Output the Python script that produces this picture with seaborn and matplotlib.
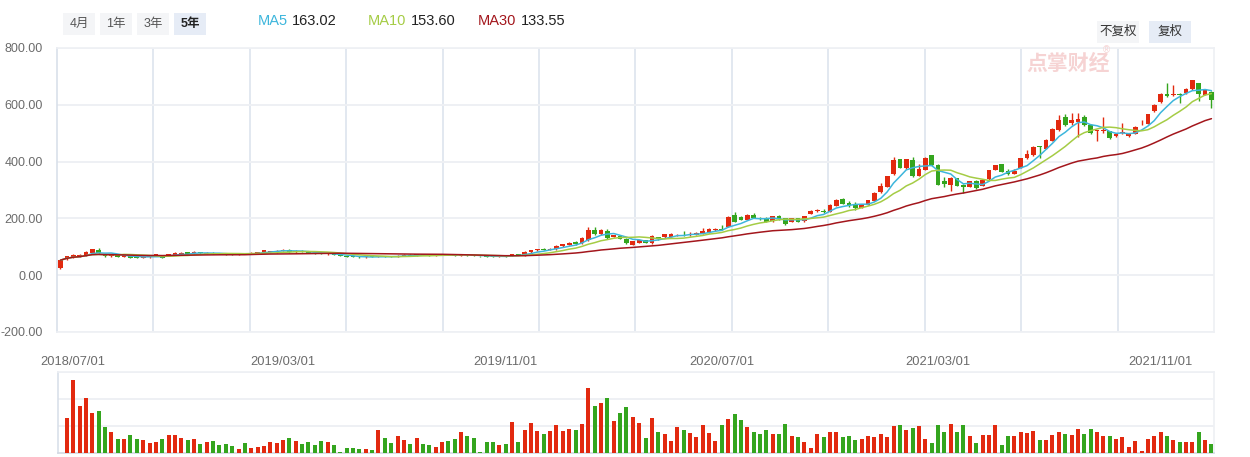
import numpy as np
import pandas as pd
import matplotlib
matplotlib.use("Agg")
import matplotlib.pyplot as plt
from matplotlib.patches import Rectangle
import seaborn as sns

# ---------------- data ----------------
opens = [26, 57, 64, 66, 68, 78, 88, 72, 66, 71, 65, 67, 65, 61, 63, 69, 67, 68, 71, 73,
         80, 77, 80, 76, 79, 77, 76, 74, 72, 77, 74, 78, 80, 82, 80, 85, 90, 80, 84, 82,
         79, 77, 73, 76, 72, 68, 67, 66, 63, 67, 64, 68, 67, 64, 68, 72, 69, 74, 71, 69,
         71, 74, 72, 69, 74, 71, 68, 67, 66, 65, 71, 70, 74, 69, 80, 87, 94, 90, 91, 102,
         106, 118, 112, 123, 159, 144, 155, 135, 139, 127, 108, 115, 123, 112, 133, 133, 135, 140, 143, 140,
         143, 146, 150, 158, 163, 170, 211, 205, 195, 213, 203, 202, 191, 208, 200, 188, 200, 191, 216, 225,
         226, 223, 245, 268, 255, 252, 238, 248, 262, 293, 311, 355, 408, 376, 405, 350, 372, 422, 387, 332,
         319, 341, 317, 311, 333, 315, 337, 372, 391, 366, 358, 379, 411, 422, 453, 446, 473, 510, 557, 536,
         539, 557, 530, 507, 507, 507, 491, 500, 490, 498, 531, 534, 578, 610, 639, 634, 639, 641, 655, 675,
         636, 645]
highs = [55, 68, 74, 73, 85, 93, 95, 74, 75, 72, 71, 68, 66, 66, 68, 75, 68, 74, 82, 80,
         81, 84, 81, 80, 80, 78, 77, 75, 77, 78, 80, 83, 89, 86, 87, 91, 94, 87, 88, 83,
         80, 78, 78, 77, 73, 69, 68, 67, 67, 68, 68, 69, 68, 70, 74, 73, 76, 75, 72, 73,
         75, 75, 73, 76, 75, 72, 69, 68, 67, 71, 72, 76, 75, 85, 89, 93, 97, 96, 108, 110,
         117, 121, 134, 168, 168, 162, 163, 143, 142, 130, 122, 125, 125, 140, 136, 146, 148, 145, 156, 152,
         151, 165, 166, 167, 176, 208, 222, 210, 214, 219, 205, 204, 210, 213, 202, 202, 202, 210, 228, 234,
         233, 251, 267, 272, 262, 256, 252, 266, 292, 323, 351, 417, 410, 410, 415, 393, 416, 424, 390, 346,
         345, 343, 320, 333, 336, 336, 372, 389, 393, 374, 375, 413, 440, 455, 455, 478, 518, 563, 569, 571,
         572, 565, 533, 510, 556, 509, 500, 535, 500, 524, 548, 569, 603, 640, 677, 668, 641, 659, 688, 677,
         656, 648]
lows = [22, 55, 62, 64, 67, 76, 76, 64, 64, 63, 64, 60, 59, 60, 62, 68, 60, 67, 70, 72,
        74, 76, 76, 75, 75, 73, 72, 71, 71, 73, 73, 77, 79, 80, 79, 84, 79, 79, 81, 77,
        75, 73, 72, 70, 66, 63, 63, 62, 62, 63, 63, 64, 63, 63, 67, 68, 68, 70, 68, 68,
        70, 70, 68, 68, 69, 67, 65, 64, 63, 64, 65, 69, 70, 68, 79, 86, 88, 89, 90, 101,
        105, 108, 111, 122, 142, 142, 127, 133, 126, 110, 106, 113, 113, 110, 124, 131, 133, 138, 139, 138,
        141, 144, 148, 156, 158, 168, 186, 193, 193, 200, 194, 186, 189, 196, 177, 186, 186, 189, 214, 222,
        219, 221, 243, 249, 240, 230, 236, 246, 260, 291, 309, 353, 376, 374, 345, 348, 370, 385, 317, 312,
        297, 313, 290, 309, 304, 313, 335, 370, 362, 352, 356, 377, 409, 420, 414, 444, 471, 508, 526, 528,
        486, 526, 497, 472, 500, 481, 487, 496, 486, 496, 529, 532, 576, 608, 629, 632, 607, 639, 653, 614,
        634, 590]
closes = [53, 66, 71, 71, 82, 91, 78, 66, 73, 65, 70, 62, 61, 64, 67, 73, 62, 73, 79, 79,
          75, 81, 77, 79, 76, 74, 73, 72, 76, 74, 79, 82, 87, 85, 86, 90, 81, 85, 82, 78,
          76, 74, 77, 71, 67, 64, 64, 63, 66, 64, 67, 65, 64, 69, 72, 69, 74, 71, 69, 72,
          74, 71, 69, 74, 70, 68, 66, 65, 64, 70, 66, 74, 71, 82, 88, 92, 90, 94, 102, 109,
          115, 110, 131, 159, 144, 159, 131, 141, 128, 112, 120, 123, 115, 137, 126, 144, 146, 143, 140, 143,
          150, 155, 163, 163, 159, 205, 188, 195, 211, 202, 198, 188, 208, 198, 182, 200, 188, 208, 226, 226,
          221, 246, 264, 251, 248, 237, 250, 264, 290, 313, 349, 405, 379, 408, 350, 373, 413, 387, 319, 320,
          343, 315, 311, 331, 306, 334, 370, 387, 364, 358, 368, 411, 428, 452, 451, 475, 516, 546, 528, 546,
          549, 528, 499, 509, 510, 483, 497, 505, 497, 522, 534, 567, 601, 637, 631, 639, 636, 657, 686, 639,
          651, 616]
volumes = [np.nan,
           106, 220, 142, 166, 121, 127, 79, 64, 43, 43, 55, 43, 40, 31, 34, 43, 55, 55, 46, 40,
           43, 28, 34, 37, 25, 28, 22, 13, 31, 16, 19, 22, 34, 31, 40, 46, 37, 28, 34, 25,
           37, 34, 25, 4, 16, 16, 13, 13, 10, 70, 46, 31, 52, 40, 28, 46, 28, 25, 19, 34,
           37, 43, 64, 52, 46, 4, 34, 34, 25, 28, 94, 34, 70, 91, 67, 58, 67, 85, 67, 73,
           70, 88, 196, 142, 151, 166, 97, 121, 139, 109, 91, 46, 106, 64, 58, 37, 79, 70, 61, 49,
           85, 61, 37, 85, 103, 118, 100, 79, 64, 58, 70, 58, 58, 88, 52, 49, 34, 16, 58, 49,
           64, 64, 49, 52, 40, 43, 52, 49, 58, 49, 82, 85, 70, 76, 82, 43, 31, 85, 64, 88,
           64, 85, 52, 31, 55, 55, 85, 25, 52, 52, 64, 61, 67, 40, 40, 55, 64, 58, 55, 73,
           58, 73, 64, 52, 52, 43, 49, 19, 37, 7, 43, 52, 64, 52, 40, 34, 34, 34, 64, 40,
           28]
date_tick_idx = [2, 35, 70, 104, 138, 173]
date_tick_labels = ["2018/07/01", "2019/03/01", "2019/11/01", "2020/07/01", "2021/03/01", "2021/11/01"]
price_ticks = [-200, 0, 200, 400, 600, 800]
ma_windows = [5, 10, 30]
ma_names = ["MA5", "MA10", "MA30"]
ma_header_values = ["163.02", "153.60", "133.55"]
period_buttons = ["4月", "1年", "3年", "5年"]
adjust_buttons = ["不复权", "复权"]

# ---------------- style ----------------
sns.set_style("white")
plt.rcParams["font.family"] = ["Liberation Sans", "Noto Sans CJK SC", "DejaVu Sans"]

RED = "#e2290f"
GREEN = "#34a51e"
MA_COLORS = ["#3db6dc", "#a5cc45", "#a3161c"]
GRID_H = "#eef0f4"
GRID_V = "#e2e8f0"
TXT = "#6b6b6b"

W, H = 1250, 457
fig = plt.figure(figsize=(W / 100, H / 100), dpi=100)
fig.patch.set_facecolor("white")

def fx(px):
    return px / W

def fy(py):
    return 1 - py / H

df = pd.DataFrame({"open": opens, "high": highs, "low": lows, "close": closes, "volume": volumes})
df["idx"] = np.arange(len(df))
df["up"] = df["close"] >= df["open"]
for w, n in zip(ma_windows, ma_names):
    df[n] = df["close"].rolling(w, min_periods=1).mean()

XL = (-0.55, 181.4)

# ---------------- main axes ----------------
ax = fig.add_axes([fx(57), fy(332), fx(1214) - fx(57), fy(48) - fy(332)])
ax.set_xlim(*XL)
ax.set_ylim(-200, 800)
ax.set_yticks(price_ticks)
ax.set_yticklabels([f"{v:.2f}" for v in price_ticks], color=TXT, fontsize=9)
ax.tick_params(axis="y", length=0, pad=10)
vgrid = [XL[0] + (XL[1] - XL[0]) * j / 12 for j in range(1, 12)]
ax.set_xticks(vgrid)
ax.set_xticklabels([])
ax.tick_params(axis="x", length=0)
ax.grid(axis="y", color=GRID_H, lw=1.4)
ax.grid(axis="x", color=GRID_V, lw=1.4)
ax.set_axisbelow(True)
for s in ["top", "right", "bottom"]:
    ax.spines[s].set_color(GRID_H)
    ax.spines[s].set_linewidth(1.2)
ax.spines["left"].set_color("#d9e0ea")
ax.spines["left"].set_linewidth(1.2)

colors = np.where(df["up"], RED, GREEN)
body_bottom = np.minimum(df["open"], df["close"])
body_h = np.maximum((df["close"] - df["open"]).abs(), 3)
ax.vlines(df["idx"], df["low"], df["high"], colors=colors, lw=1.0, zorder=3)
ax.bar(df["idx"], body_h, bottom=body_bottom, width=0.74, color=colors, lw=0, zorder=4)

for n, c in zip(ma_names, MA_COLORS):
    sns.lineplot(data=df, x="idx", y=n, ax=ax, color=c, lw=1.1, zorder=5, legend=False)
ax.set_xlabel("")
ax.set_ylabel("")

# watermark
fig.text(fx(1068), fy(64), "点掌财经", color="#f6d3d3", fontsize=15, fontweight="bold",
         ha="center", va="center", zorder=0)
fig.text(fx(1106), fy(50), "®", color="#f6d3d3", fontsize=7, ha="center", va="center")

# ---------------- volume axes ----------------
axv = fig.add_axes([fx(58), fy(453), fx(1214) - fx(58), fy(372) - fy(453)])
axv.set_xlim(-0.39, 181.4)
axv.set_ylim(0, 243)
axv.bar(df["idx"], df["volume"], width=0.63, color=colors, lw=0, zorder=3)
axv.set_yticks([81, 162, 243])
axv.set_yticklabels([])
axv.tick_params(axis="y", length=0)
axv.grid(axis="y", color=GRID_H, lw=1.4)
axv.set_axisbelow(True)
axv.xaxis.tick_top()
axv.set_xticks(date_tick_idx)
axv.set_xticklabels(date_tick_labels, color=TXT, fontsize=9.3)
axv.tick_params(axis="x", length=0, pad=3)
axv.spines["top"].set_color(GRID_H)
axv.spines["right"].set_color(GRID_H)
axv.spines["left"].set_color("#d9e0ea")
axv.spines["bottom"].set_color("#d3d9e3")
for s in axv.spines.values():
    s.set_linewidth(1.2)

# ---------------- header ----------------
btn_x = [63, 100, 137, 174]
for i, (lab, x0) in enumerate(zip(period_buttons, btn_x)):
    active = i == len(period_buttons) - 1
    fig.patches.append(Rectangle((fx(x0), fy(35)), fx(32), fy(13) - fy(35), transform=fig.transFigure,
                                 facecolor="#e6ecf6" if active else "#f4f5f7", edgecolor="none", zorder=0))
    fig.text(fx(x0 + 16), fy(24), lab, ha="center", va="center", fontsize=9,
             color="#222222" if active else "#555555", fontweight="bold" if active else "normal")

ma_x = [258, 368, 478]
for name, val, c, x0 in zip(ma_names, ma_header_values, MA_COLORS, ma_x):
    t = fig.text(fx(x0), fy(21), name, ha="left", va="center", fontsize=10.5, color=c)
    fig.canvas.draw()
    bb = t.get_window_extent()
    fig.text(bb.x1 / W + fx(4), fy(21), val, ha="left", va="center", fontsize=10.5, color="#222222")

adj_boxes = [(1097, 42, "#f4f5f7"), (1149, 42, "#e6ecf6")]
for lab, (x0, w, fc) in zip(adjust_buttons, adj_boxes):
    fig.patches.append(Rectangle((fx(x0), fy(43)), fx(w), fy(21) - fy(43), transform=fig.transFigure,
                                 facecolor=fc, edgecolor="none", zorder=0))
    fig.text(fx(x0 + w / 2), fy(32), lab, ha="center", va="center", fontsize=9, color="#333333")

fig.savefig("out.png", dpi=100, facecolor="white")
